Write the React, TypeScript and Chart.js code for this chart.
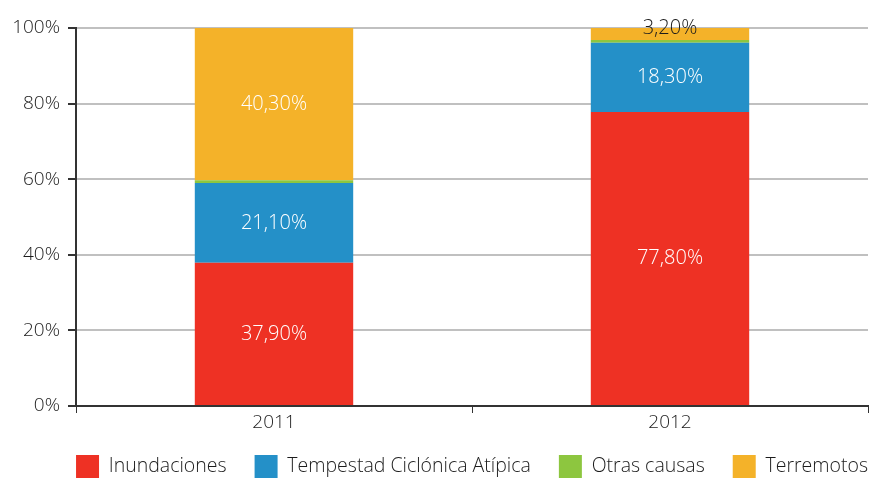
import React, { useEffect, useRef } from "react";
import { Chart, registerables } from "chart.js";

Chart.register(...registerables);

const categories = ["2011", "2012"];
const seriesNames = ["Inundaciones", "Tempestad Ciclónica Atípica", "Otras causas", "Terremotos"];
const inundaciones = [37.9, 77.8];
const tempestad = [21.1, 18.3];
const otras = [0.7, 0.7];
const terremotos = [40.3, 3.2];
const yTicks = [0, 20, 40, 60, 80, 100];
const colors = ["#EE3124", "#2490C8", "#8DC63F", "#F4B229"];
const FONT = "'Open Sans', sans-serif";
const TEXT = "#1c1c1c";

const fmt = (v: number) => v.toFixed(2).replace(".", ",") + "%";

const labelPlugin = {
  id: "barLabels",
  afterDatasetsDraw(chart: any) {
    const ctx = chart.ctx;
    ctx.save();
    ctx.font = `300 20px ${FONT}`;
    ctx.textAlign = "center";
    ctx.textBaseline = "middle";
    chart.data.datasets.forEach((ds: any, di: number) => {
      if (di === 2) return;
      const meta = chart.getDatasetMeta(di);
      meta.data.forEach((bar: any, i: number) => {
        const v = ds.data[i];
        const small = v < 5;
        ctx.fillStyle = small ? TEXT : "#ffffff";
        const y = (bar.y + bar.base) / 2 + (small ? -6 : 0);
        ctx.fillText(fmt(v), bar.x, y);
      });
    });
    // category labels (drawn unclipped below the x axis)
    const xs = chart.scales.x;
    ctx.fillStyle = TEXT;
    ctx.font = `300 19px ${FONT}`;
    categories.forEach((c, i) => {
      ctx.fillText(c, xs.getPixelForValue(i), xs.top + 17);
    });
    ctx.restore();
  },
};

export default function App() {
  const ref = useRef<HTMLCanvasElement>(null);
  useEffect(() => {
    if (!ref.current) return;
    const data = [inundaciones, tempestad, otras, terremotos];
    const chart = new Chart(ref.current, {
      type: "bar",
      data: {
        labels: categories,
        datasets: seriesNames.map((n, k) => ({
          label: n,
          data: data[k],
          backgroundColor: colors[k],
          borderWidth: 0,
          barPercentage: 0.8,
          categoryPercentage: 0.5,
        })),
      },
      options: {
        animation: false,
        responsive: false,
        layout: { padding: { left: 0, right: -24, top: 28, bottom: 0 } },
        scales: {
          x: {
            stacked: true,
            afterFit: (s: any) => { s.height = 21; },
            grid: { drawOnChartArea: false, drawTicks: true, tickLength: 7, tickColor: "#333", offset: true },
            border: { display: true, color: "#333", width: 2 },
            ticks: { color: "rgba(0,0,0,0)", font: { family: FONT, size: 19, weight: "300" }, padding: 0 },
          },
          y: {
            stacked: true,
            min: 0,
            max: 100,
            afterFit: (s: any) => { s.width = 76; },
            afterBuildTicks: (s: any) => { s.ticks = yTicks.map((v) => ({ value: v })); },
            grid: { color: "#c0c0c0", lineWidth: 2, tickColor: "#333", tickLength: 8 },
            border: { display: true, color: "#333", width: 2 },
            ticks: { color: TEXT, font: { family: FONT, size: 19, weight: "300" }, padding: 8, callback: (v: any) => v + "%" },
          },
          yRight: {
            position: "right",
            display: true,
            min: 0,
            max: 100,
            afterFit: (s: any) => { s.width = 28; },
            grid: { drawOnChartArea: false, drawTicks: false },
            border: { display: false },
            ticks: { display: false },
          },
        },
        plugins: {
          legend: {
            position: "bottom",
            align: "end",
            labels: {
              boxWidth: 23,
              boxHeight: 23,
              padding: 28,
              color: TEXT,
              font: { family: FONT, size: 19.5, weight: "300" },
            },
          },
          tooltip: { enabled: false },
        },
      },
      plugins: [labelPlugin],
    });
    return () => chart.destroy();
  }, []);
  return (
    <div style={{ position: "fixed", left: 0, top: 0, width: 872, height: 480, background: "#fff", overflow: "hidden" }}>
      <canvas ref={ref} width={872} height={488} />
    </div>
  );
}
